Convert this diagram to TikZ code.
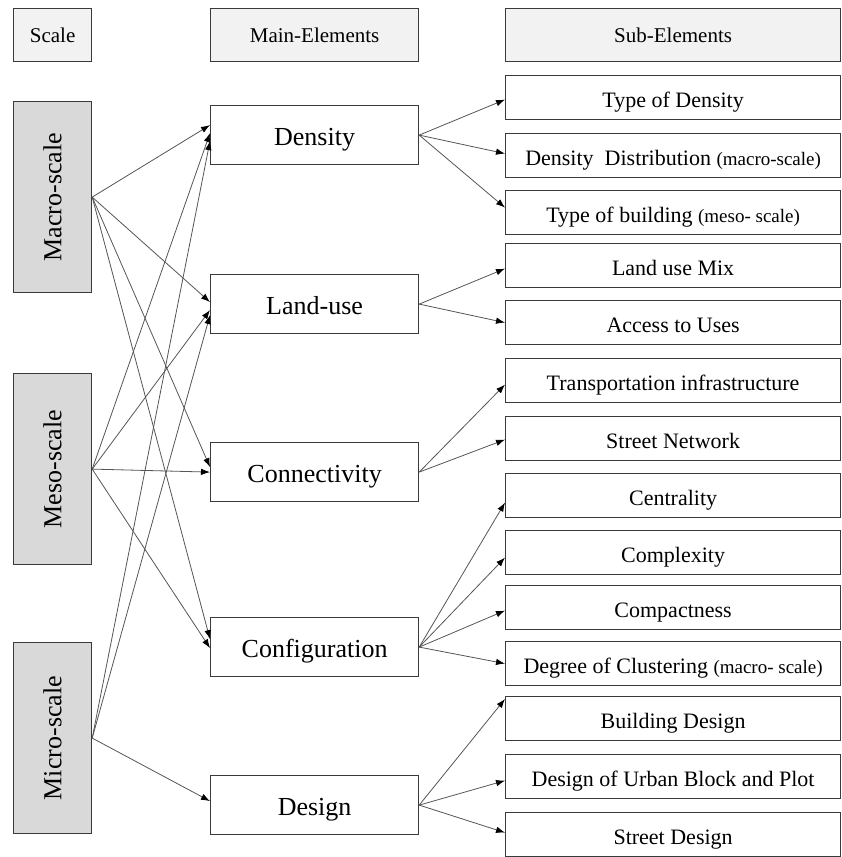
\documentclass[tikz,border=0pt]{standalone}
\usepackage{fontspec}
\usepackage{graphicx}
\setmainfont{Liberation Serif}
\usetikzlibrary{arrows.meta,calc}
\definecolor{hdr}{HTML}{F2F2F2}
\definecolor{scl}{HTML}{D9D9D9}
\definecolor{edge}{HTML}{3A3A3A}
\definecolor{wire}{HTML}{555555}
\newcommand\hfs{\fontsize{21}{25}\selectfont}
\newcommand\mfs{\fontsize{26}{30}\selectfont}
\newcommand\sfs{\fontsize{22}{26}\selectfont}
\newcommand\pfs{\fontsize{19}{22}\selectfont}
\begin{document}
\begin{tikzpicture}[x=1pt,y=-1pt,
  box/.style={draw=edge,line width=1.2pt,inner sep=0pt,anchor=north west},
  hdrbox/.style={box,fill=hdr,font=\hfs},
  sclbox/.style={box,fill=scl,font=\mfs,minimum width=78pt,minimum height=191pt},
  mainbox/.style={box,fill=white,font=\mfs,minimum width=208pt,minimum height=59pt,text height=22pt,text depth=2pt},
  subbox/.style={box,fill=white,font=\sfs,minimum width=335pt,minimum height=44pt,text height=20pt,text depth=1pt},
  link/.style={draw=wire,line width=0.8pt,-{Latex[length=9pt,width=6.5pt,color=black]}}]
\useasboundingbox (0,0) rectangle (842,857);
% headers
\node[hdrbox,minimum width=78pt,minimum height=53pt] (hs) at (13,8) {Scale};
\node[hdrbox,minimum width=208pt,minimum height=53pt] (hm) at (210,8) {Main-Elements};
\node[hdrbox,minimum width=335pt,minimum height=53pt] (hsub) at (505,8) {Sub-Elements};
% scales
\node[sclbox] (macro) at (13,101) {\rotatebox{90}{Macro-scale}};
\node[sclbox] (meso) at (13,373) {\rotatebox{90}{Meso-scale}};
\node[sclbox] (micro) at (13,642) {\rotatebox{90}{Micro-scale}};
% main
\node[mainbox] (den) at (210,105) {Density};
\node[mainbox] (lu) at (210,274) {Land-use};
\node[mainbox] (con) at (210,442) {Connectivity};
\node[mainbox] (cfg) at (210,617) {Configuration};
\node[mainbox] (des) at (210,775) {Design};
% subs
\node[subbox] (s1) at (505,75) {Type of Density};
\node[subbox] (s2) at (505,133) {Density~~Distribution {\pfs(macro-scale)}};
\node[subbox] (s3) at (505,190) {Type of building {\pfs(meso- scale)}};
\node[subbox] (s4) at (505,243) {Land use Mix};
\node[subbox] (s5) at (505,300) {Access to Uses};
\node[subbox] (s6) at (505,358) {Transportation infrastructure};
\node[subbox] (s7) at (505,416) {Street Network};
\node[subbox] (s8) at (505,473) {Centrality};
\node[subbox] (s9) at (505,530) {Complexity};
\node[subbox] (s10) at (505,585) {Compactness};
\node[subbox] (s11) at (505,641) {Degree of Clustering {\pfs(macro- scale)}};
\node[subbox] (s12) at (505,696) {Building Design};
\node[subbox] (s13) at (505,754) {Design of Urban Block and Plot};
\node[subbox] (s14) at (505,812) {Street Design};
% scale -> main
\draw[link] (macro.east) -- ($(den.west)+(0,-10)$);
\draw[link] (macro.east) -- ($(lu.west)+(0,-2)$);
\draw[link] (macro.east) -- ($(con.west)+(0,-5)$);
\draw[link] (macro.east) -- ($(cfg.west)+(0,-8)$);
\draw[link] (meso.east) -- ($(den.west)+(0,-2)$);
\draw[link] (meso.east) -- ($(lu.west)+(0,6)$);
\draw[link] (meso.east) -- (con.west);
\draw[link] (meso.east) -- ($(cfg.west)+(0,1)$);
\draw[link] (micro.east) -- ($(den.west)+(0,6)$);
\draw[link] (micro.east) -- ($(lu.west)+(0,11)$);
\draw[link] (micro.east) -- ($(des.west)+(0,-4)$);
% main -> sub
\draw[link] (den.east) -- ($(s1.west)+(0,2)$);
\draw[link] (den.east) -- ($(s2.west)+(0,-2)$);
\draw[link] (den.east) -- ($(s3.west)+(0,-5)$);
\draw[link] (lu.east) -- ($(s4.west)+(0,3)$);
\draw[link] (lu.east) -- (s5.west);
\draw[link] (con.east) -- ($(s6.west)+(0,4)$);
\draw[link] (con.east) -- ($(s7.west)+(0,1)$);
\draw[link] (cfg.east) -- ($(s8.west)+(0,7)$);
\draw[link] (cfg.east) -- ($(s9.west)+(0,5)$);
\draw[link] (cfg.east) -- ($(s10.west)+(0,3)$);
\draw[link] (cfg.east) -- (s11.west);
\draw[link] (des.east) -- ($(s12.north west)+(0,3)$);
\draw[link] (des.east) -- ($(s13.west)+(0,4)$);
\draw[link] (des.east) -- ($(s14.west)+(0,-2)$);
\end{tikzpicture}
\end{document}
